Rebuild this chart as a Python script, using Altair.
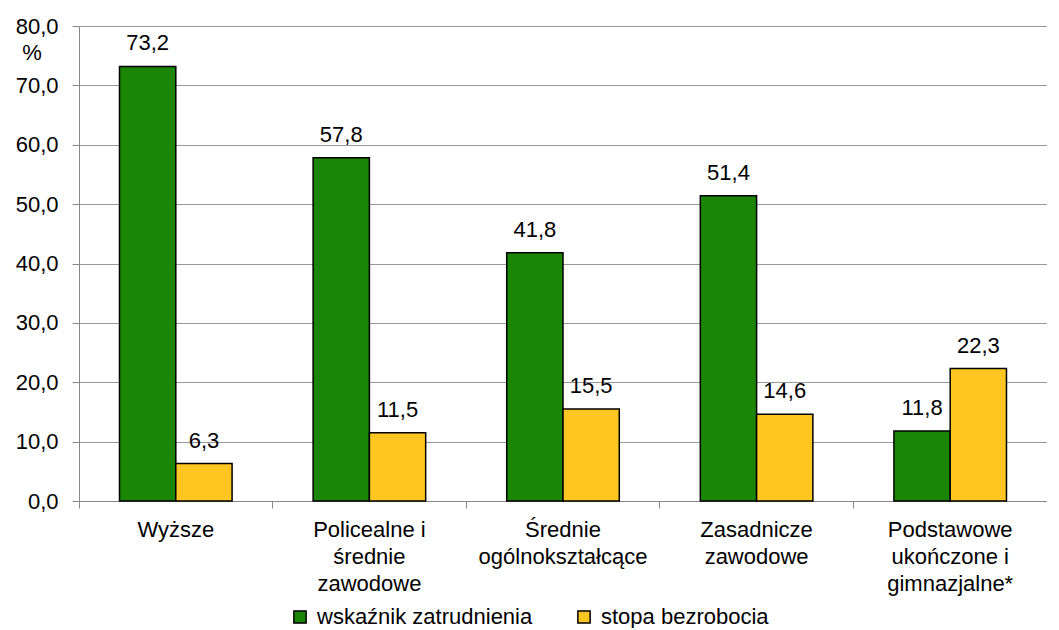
import altair as alt
import pandas as pd

categories = [
    "Wyższe",
    "Policealne i|średnie|zawodowe",
    "Średnie|ogólnokształcące",
    "Zasadnicze|zawodowe",
    "Podstawowe|ukończone i|gimnazjalne*",
]
series = ["wskaźnik zatrudnienia", "stopa bezrobocia"]
employment = [73.2, 57.8, 41.8, 51.4, 11.8]
unemployment = [6.3, 11.5, 15.5, 14.6, 22.3]
colors = ["#1b8506", "#ffc621"]
y_ticks = [0, 10, 20, 30, 40, 50, 60, 70, 80]

rows = []
for c, e, u in zip(categories, employment, unemployment):
    rows.append({"cat": c, "series": series[0], "value": e})
    rows.append({"cat": c, "series": series[1], "value": u})
df = pd.DataFrame(rows)

W = 968
H = 475
FONT = "Liberation Sans"
FS = 22

x = alt.X(
    "cat:N",
    sort=categories,
    scale=alt.Scale(paddingInner=0, paddingOuter=0),
    axis=alt.Axis(
        title=None,
        labelAngle=0,
        labelExpr="split(datum.label, '|')",
        labelFont=FONT,
        labelFontSize=FS,
        labelColor="black",
        labelLineHeight=27,
        labelPadding=11,
        labelOverlap=False,
        labelBaseline="top",
        labelAlign="center",
        bandPosition=0,
        tickSize=7,
        tickColor="#888888",
        domainColor="#888888",
        grid=False,
    ),
)
xoff = alt.XOffset("series:N", sort=series, scale=alt.Scale(paddingInner=0, paddingOuter=0.72))
y = alt.Y(
    "value:Q",
    scale=alt.Scale(domain=[0, 80], nice=False),
    axis=alt.Axis(
        title=None,
        values=y_ticks,
        labelExpr="replace(format(datum.value, '.1f'), '.', ',')",
        labelFont=FONT,
        labelFontSize=FS,
        labelColor="black",
        labelPadding=14,
        tickSize=7,
        tickColor="#888888",
        domainColor="#888888",
        grid=True,
        gridColor="#999999",
    ),
)
color = alt.Color(
    "series:N",
    sort=series,
    scale=alt.Scale(domain=series, range=colors),
    legend=alt.Legend(
        title=None,
        orient="none",
        legendX=210,
        legendY=580,
        direction="horizontal",
        symbolType="square",
        symbolSize=150,
        symbolStrokeColor="black",
        symbolStrokeWidth=1.5,
        labelFont=FONT,
        labelFontSize=FS,
        labelColor="black",
        labelOffset=6,
        labelLimit=500,
        columnPadding=40,
    ),
)

base = alt.Chart(df)
bars = base.mark_bar(stroke="black", strokeWidth=1.5).encode(x=x, xOffset=xoff, y=y, color=color)
labels = base.transform_calculate(
    lbl="replace(format(datum.value, '.1f'), '.', ',')"
).mark_text(dy=-16, baseline="alphabetic", fontSize=FS, font=FONT, color="black").encode(
    x=x, xOffset=xoff, y=y, text="lbl:N"
)
pct = alt.Chart(pd.DataFrame({"t": ["%"]})).mark_text(
    fontSize=FS, font=FONT, color="black", align="center", baseline="middle"
).encode(x=alt.value(-47), y=alt.value(27), text="t:N")

chart = (
    alt.layer(bars, labels, pct)
    .properties(width=W, height=H, padding={"top": 7, "left": 7, "right": 0, "bottom": 0})
    .configure_view(stroke=None)
)
chart.save("out.html", embed_options={"renderer": "svg", "actions": False})
